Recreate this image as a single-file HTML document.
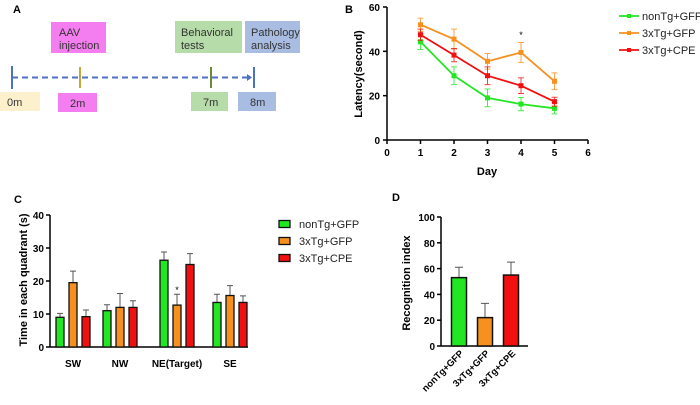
<!DOCTYPE html>
<html><head><meta charset="utf-8"><style>
body{margin:0;background:#fff;width:700px;height:400px;overflow:hidden}
svg text{font-family:"Liberation Sans",Arial,sans-serif}
.b{font-weight:bold}
</style></head><body>
<svg id="fig" width="700" height="400" viewBox="0 0 700 400">
<g>
<text x="13" y="13" class="b" font-size="11">A</text>
<rect x="51" y="22" width="55" height="31" fill="#f47ef0"/>
<text x="59" y="36" font-size="11" fill="#333">AAV</text>
<text x="59" y="49" font-size="11" fill="#333">injection</text>
<rect x="175" y="21" width="67" height="32" fill="#b5dca9"/>
<text x="181" y="36" font-size="11" fill="#333">Behavioral</text>
<text x="181" y="49" font-size="11" fill="#333">tests</text>
<rect x="245" y="21" width="55" height="32" fill="#a9bde3"/>
<text x="251" y="36" font-size="11" fill="#333">Pathology</text>
<text x="251" y="49" font-size="11" fill="#333">analysis</text>
<line x1="12" y1="77.5" x2="249" y2="77.5" stroke="#4d72c0" stroke-width="2" stroke-dasharray="6,4"/>
<path d="M247,74 L252,77.5 L247,81 Z" fill="#4d72c0"/>
<line x1="12" y1="66" x2="12" y2="89" stroke="#4d72c0" stroke-width="2"/>
<line x1="80" y1="67" x2="80" y2="88" stroke="#c9a53a" stroke-width="2"/>
<line x1="211" y1="67" x2="211" y2="88" stroke="#6b8a3a" stroke-width="2"/>
<line x1="254" y1="67" x2="254" y2="88" stroke="#4d72c0" stroke-width="2"/>
<rect x="0" y="92" width="40" height="19" fill="#fdf1cd"/>
<text x="7" y="106" font-size="11" fill="#333">0m</text>
<rect x="58" y="93" width="39" height="19" fill="#f47ef0"/>
<text x="70" y="107" font-size="11" fill="#333">2m</text>
<rect x="191" y="92" width="37" height="19" fill="#b5dca9"/>
<text x="203" y="106" font-size="11" fill="#333">7m</text>
<rect x="238" y="92" width="38" height="19" fill="#a9bde3"/>
<text x="250" y="106" font-size="11" fill="#333">8m</text>
</g>
<text x="345" y="13" class="b" font-size="11">B</text>
<text x="14" y="203" class="b" font-size="11">C</text>
<text x="392" y="201" class="b" font-size="11">D</text>
<g id="B"></g><g id="C"></g><g id="D"></g>
</svg>
<script>
const days=[1,2,3,4,5];
const bNonTg=[44.3,29,19,16.2,14.3];
const bNonTgErr=[3.5,4,4,3,2.5];
const b3xGFP=[52,45.5,35.5,39.5,26.5];
const b3xGFPErr=[3,4.5,3.5,4.5,3.8];
const b3xCPE=[47.5,38.3,29,24.5,17.3];
const b3xCPEErr=[2.5,3,4,3.5,2];
const bXTicks=[0,1,2,3,4,5,6];
const bYTicks=[0,20,40,60];
const cCats=["SW","NW","NE(Target)","SE"];
const cNonTg=[9,11,26.3,13.5];
const cNonTgErr=[1.2,1.8,2.5,2.5];
const c3xGFP=[19.5,12,12.7,15.6];
const c3xGFPErr=[3.5,4.2,3.3,3];
const c3xCPE=[9.2,12,25,13.5];
const c3xCPEErr=[2,2,3.3,2];
const cYTicks=[0,10,20,30,40];
const dCats=["nonTg+GFP","3xTg+GFP","3xTg+CPE"];
const dVals=[53,22,55];
const dErr=[8,11,10];
const dYTicks=[0,20,40,60,80,100];

const NS="http://www.w3.org/2000/svg";
function mk(p,t,a){const e=document.createElementNS(NS,t);for(const k in a)e.setAttribute(k,a[k]);p.appendChild(e);return e;}
const G=["#22e622","#f7901e","#f20f0f"];

const B=document.getElementById('B');
const bx=v=>387+v*(588-387)/6, by=v=>140-v*(133/60);
mk(B,'line',{x1:387,y1:by(60),x2:387,y2:140,stroke:'#000','stroke-width':1.5});
mk(B,'line',{x1:387,y1:140,x2:588,y2:140,stroke:'#000','stroke-width':1.5});
bYTicks.forEach(v=>{mk(B,'line',{x1:383,y1:by(v),x2:387,y2:by(v),stroke:'#000','stroke-width':1.5});
 const t=mk(B,'text',{x:380,y:by(v)+4,'text-anchor':'end','font-size':10,'font-weight':'bold'});t.textContent=v;
 
 });
bXTicks.forEach(v=>{mk(B,'line',{x1:bx(v),y1:140,x2:bx(v),y2:144,stroke:'#000','stroke-width':1.5});
 const t=mk(B,'text',{x:bx(v),y:156,'text-anchor':'middle','font-size':10,'font-weight':'bold'});t.textContent=v;
 
 });
let t=mk(B,'text',{x:487,y:175,'text-anchor':'middle','font-size':11,'font-weight':'bold'});t.textContent='Day';


t=mk(B,'text',{x:0,y:0,transform:'translate(362,74) rotate(-90)','text-anchor':'middle','font-size':11,'font-weight':'bold'});t.textContent='Latency(second)';


[[bNonTg,bNonTgErr],[b3xGFP,b3xGFPErr],[b3xCPE,b3xCPEErr]].forEach(([vals,errs],si)=>{
 const c=G[si];
 vals.forEach((v,i)=>{const x=bx(days[i]);
  const l=mk(B,'path',{d:`M${x},${by(v-errs[i])}V${by(v+errs[i])}M${x-3},${by(v-errs[i])}h6M${x-3},${by(v+errs[i])}h6`,stroke:c,'stroke-width':1,fill:'none',opacity:0.8});
  
  });
 const p=mk(B,'polyline',{points:vals.map((v,i)=>bx(days[i])+','+by(v)).join(' '),fill:'none',stroke:c,'stroke-width':1.8});
 
 
 vals.forEach((v,i)=>{const m=mk(B,'rect',{x:bx(days[i])-2.5,y:by(v)-2.5,width:5,height:5,fill:c});
  
  });
});
t=mk(B,'text',{x:bx(4),y:by(46),'text-anchor':'middle','font-size':9});t.textContent='*';


["nonTg+GFP","3xTg+GFP","3xTg+CPE"].forEach((n,i)=>{const y=16+i*17;
 mk(B,'line',{x1:619,y1:y,x2:639,y2:y,stroke:G[i],'stroke-width':1.8});
 mk(B,'rect',{x:627,y:y-2,width:4,height:4,fill:G[i]});
 const tt=mk(B,'text',{x:642,y:y+4,'font-size':11,fill:'#222'});tt.textContent=n;
 
 });

const C=document.getElementById('C');
const cy=v=>347-v*(132/40);
const cCenters=[73,120,177,230];
mk(C,'line',{x1:50,y1:cy(40),x2:50,y2:347,stroke:'#000','stroke-width':1.5});
mk(C,'line',{x1:50,y1:347,x2:248,y2:347,stroke:'#000','stroke-width':1.5});
cYTicks.forEach(v=>{mk(C,'line',{x1:46,y1:cy(v),x2:50,y2:cy(v),stroke:'#000','stroke-width':1.5});
 const tt=mk(C,'text',{x:44,y:cy(v)+4,'text-anchor':'end','font-size':10,'font-weight':'bold'});tt.textContent=v;
 
 });
t=mk(C,'text',{x:0,y:0,transform:'translate(27,280) rotate(-90)','text-anchor':'middle','font-size':11,'font-weight':'bold'});t.textContent='Time in each quadrant (s)';


cCats.forEach((c,i)=>{const tt=mk(C,'text',{x:cCenters[i],y:367,'text-anchor':'middle','font-size':10,'font-weight':'bold'});tt.textContent=c;
 
 });
[[cNonTg,cNonTgErr],[c3xGFP,c3xGFPErr],[c3xCPE,c3xCPEErr]].forEach(([vals,errs],si)=>{
 vals.forEach((v,i)=>{const x=cCenters[i]+(si-1)*13;
  mk(C,'path',{d:`M${x},${cy(v)}V${cy(v+errs[i])}M${x-3},${cy(v+errs[i])}h6`,stroke:'#555','stroke-width':1,fill:'none'});
  const r=mk(C,'rect',{x:x-4,y:cy(v),width:8,height:347-cy(v),fill:G[si],stroke:'#111','stroke-width':1.3});
  
  });
});
t=mk(C,'text',{x:cCenters[2],y:cy(c3xGFP[2]+c3xGFPErr[2])-1,'text-anchor':'middle','font-size':9});t.textContent='*';


["nonTg+GFP","3xTg+GFP","3xTg+CPE"].forEach((n,i)=>{const y=224+i*17;
 mk(C,'rect',{x:279,y:y-3.5,width:11,height:7,fill:G[i],stroke:'#111','stroke-width':1.3});
 const tt=mk(C,'text',{x:299,y:y+4,'font-size':11,fill:'#222'});tt.textContent=n;
 
 });

const D=document.getElementById('D');
const dy=v=>346-v*(129/100);
const dCenters=[459,485,511];
mk(D,'line',{x1:441,y1:dy(100),x2:441,y2:346,stroke:'#000','stroke-width':1.5});
mk(D,'line',{x1:441,y1:346,x2:528,y2:346,stroke:'#000','stroke-width':1.5});
dYTicks.forEach(v=>{mk(D,'line',{x1:437,y1:dy(v),x2:441,y2:dy(v),stroke:'#000','stroke-width':1.5});
 const tt=mk(D,'text',{x:435,y:dy(v)+4,'text-anchor':'end','font-size':10,'font-weight':'bold'});tt.textContent=v;
 
 });
t=mk(D,'text',{x:0,y:0,transform:'translate(410,283) rotate(-90)','text-anchor':'middle','font-size':11,'font-weight':'bold'});t.textContent='Recognition index';


dVals.forEach((v,i)=>{const x=dCenters[i];
 mk(D,'path',{d:`M${x},${dy(v)}V${dy(v+dErr[i])}M${x-4},${dy(v+dErr[i])}h8`,stroke:'#555','stroke-width':1,fill:'none'});
 const r=mk(D,'rect',{x:x-7.5,y:dy(v),width:15,height:346-dy(v),fill:G[i],stroke:'#111','stroke-width':1.5});
 
 
 const tt=mk(D,'text',{x:0,y:0,transform:`translate(${x+5},354) rotate(-45)`,'text-anchor':'end','font-size':9.5,'font-weight':'bold'});tt.textContent=dCats[i];
 
 });
</script>
</body></html>
